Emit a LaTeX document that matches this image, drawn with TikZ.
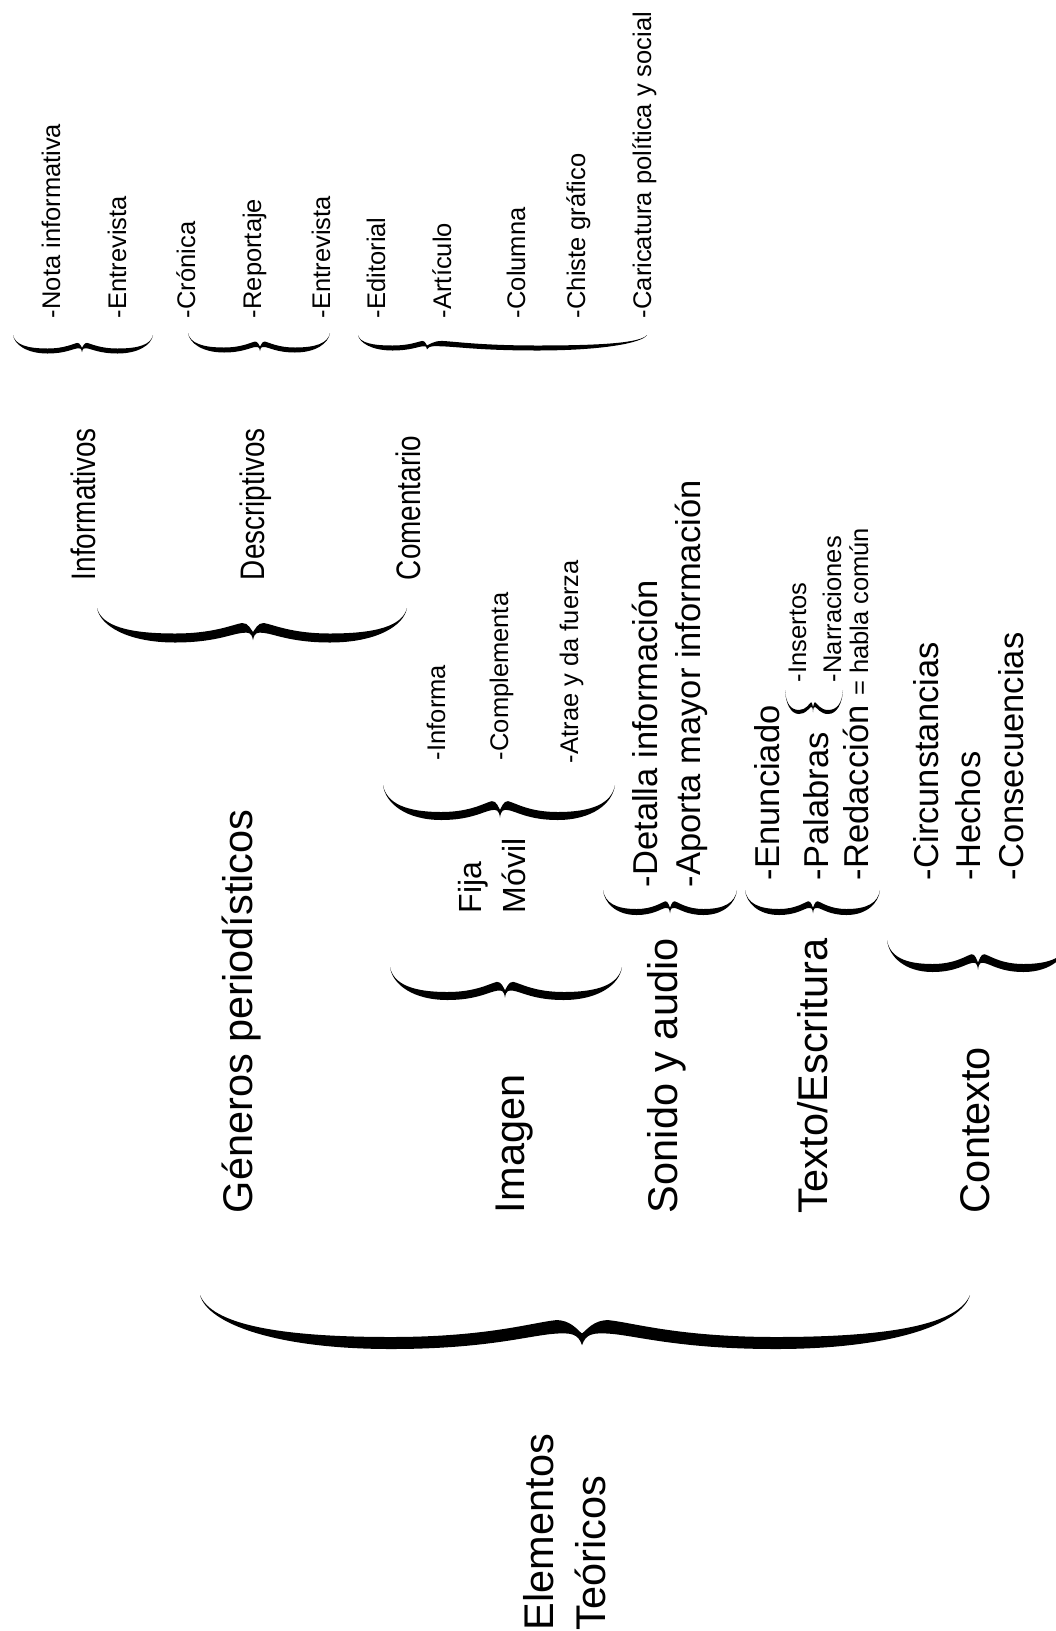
\documentclass[tikz,border=0pt]{standalone}
\usepackage{fontspec}
\setmainfont{Liberation Sans}
\newfontfamily\narrowsans{Liberation Sans}[FakeStretch=0.82]
\usetikzlibrary{positioning}

% curly brace: tip at the origin level, ends at y=0, belly at depth #3, thickness #4
\tikzset{
  pics/curly/.style n args={4}{code={%
    \fill[black] (-#1,0)
      .. controls ({-0.98*#1},{0.6*#3}) and ({-0.8*#1},{#3+0.5*#4}) .. ({-0.5*#1},{#3+0.5*#4})
      .. controls ({-0.25*#1},{#3+0.5*#4}) and ({-0.14*#1},{0.72*#3+0.5*#4}) .. ({-0.07*#1},{0.68*#3+0.5*#4})
      .. controls ({-0.03*#1},{0.66*#3+0.5*#4}) and ({-0.01*#1},{0.8*#3}) .. (0,{0.92*#3+0.5*#4})
      .. controls ({0.01*#2},{0.8*#3}) and ({0.03*#2},{0.66*#3+0.5*#4}) .. ({0.07*#2},{0.68*#3+0.5*#4})
      .. controls ({0.14*#2},{0.72*#3+0.5*#4}) and ({0.25*#2},{#3+0.5*#4}) .. ({0.5*#2},{#3+0.5*#4})
      .. controls ({0.8*#2},{#3+0.5*#4}) and ({0.98*#2},{0.6*#3}) .. (#2,0)
      .. controls ({0.97*#2},{0.6*#3}) and ({0.8*#2},{#3-0.5*#4}) .. ({0.5*#2},{#3-0.5*#4})
      .. controls ({0.25*#2},{#3-0.5*#4}) and ({0.13*#2},{0.7*#3-0.5*#4}) .. ({0.07*#2},{0.65*#3-0.5*#4})
      .. controls ({0.03*#2},{0.63*#3-0.5*#4}) and ({0.01*#2},{0.75*#3}) .. (0,{0.8*#3})
      .. controls ({-0.01*#1},{0.75*#3}) and ({-0.03*#1},{0.63*#3-0.5*#4}) .. ({-0.07*#1},{0.65*#3-0.5*#4})
      .. controls ({-0.13*#1},{0.7*#3-0.5*#4}) and ({-0.25*#1},{#3-0.5*#4}) .. ({-0.5*#1},{#3-0.5*#4})
      .. controls ({-0.8*#1},{#3-0.5*#4}) and ({-0.97*#1},{0.6*#3}) .. (-#1,0) -- cycle;
  }},
  lbl/.style={rotate=90, anchor=base west, inner sep=0pt, outer sep=0pt},
  biglbl/.style={lbl, font=\fontsize{41.5}{48}\selectfont},
  midlbl/.style={lbl, font=\narrowsans\fontsize{34}{40}\selectfont},
  medlbl/.style={lbl, font=\fontsize{34.5}{40}\selectfont},
  fmlbl/.style={lbl, font=\fontsize{32}{38}\selectfont},
  smllbl/.style={lbl, font=\fontsize{25.5}{30}\selectfont},
}

\begin{document}
\begin{tikzpicture}[x=1pt,y=-1pt]
\fill[white] (0,0) rectangle (1056,1631);
\useasboundingbox (0,0) rectangle (1056,1631);

% root
\node[biglbl] (elem) at (553,1630) {Elementos};
\node[biglbl] (teo) at (605,1630) {Teóricos};
\pic at (582,1295) {curly={382}{388}{48}{12}};

% main branches
\node[biglbl] (generos) at (252,1213) {Géneros periodísticos};
\node[biglbl] (imagen) at (524,1213) {Imagen};
\node[biglbl] (sonido) at (677,1213) {Sonido y audio};
\node[biglbl] (texto) at (827,1213) {Texto/Escritura};
\node[biglbl] (contexto) at (989,1213) {Contexto};

% generos periodisticos
\pic at (253,608) {curly={156}{154}{30}{9}};
\node[midlbl] (informativos) at (95,580) {Informativos};
\node[midlbl] (descriptivos) at (264,580) {Descriptivos};
\node[midlbl] (comentario) at (420,580) {Comentario};

\pic at (82,335) {curly={69}{71}{16}{5}};
\pic at (260,333) {curly={72}{70}{17}{5}};
\pic at (427,335) {curly={69}{220}{13}{5}};
\node[smllbl] (nota) at (60,318) {-Nota informativa};
\node[smllbl] (entrevA) at (126,318) {-Entrevista};
\node[smllbl] (cronica) at (195,318) {-Crónica};
\node[smllbl] (reportaje) at (261,318) {-Reportaje};
\node[smllbl] (entrevB) at (330,318) {-Entrevista};
\node[smllbl] (editorial) at (385,318) {-Editorial};
\node[smllbl] (articulo) at (451,318) {-Artículo};
\node[smllbl] (columna) at (525,318) {-Columna};
\node[smllbl] (chiste) at (585,318) {-Chiste gráfico};
\node[smllbl] (caricatura) at (651,318) {-Caricatura política y social};

% imagen
\pic at (505,967) {curly={115}{117}{29}{8}};
\node[fmlbl] (fija) at (481,913) {Fija};
\node[fmlbl] (movil) at (525,913) {Móvil};
\pic at (500,785) {curly={117}{115}{31}{8}};
\node[smllbl] (informa) at (445,760) {-Informa};
\node[smllbl] (complementa) at (508,760) {-Complementa};
\node[smllbl] (atrae) at (578,763) {-Atrae y da fuerza};

% sonido y audio
\pic at (670,890) {curly={67}{67}{22}{6}};
\node[medlbl] (detalla) at (657,887) {-Detalla información};
\node[medlbl] (aporta) at (700,887) {-Aporta mayor información};

% texto/escritura
\pic at (813,890) {curly={68}{67}{22}{6}};
\node[medlbl] (enunciado) at (779,880) {-Enunciado};
\node[medlbl] (palabras) at (828,880) {-Palabras};
\node[medlbl] (redaccion) at (868,880) {-Redacción {\fontsize{25.5}{30}\selectfont = habla común}};
\pic at (813,690) {curly={28}{30}{22}{4}};
\node[smllbl] (insertos) at (806,682) {-Insertos};
\node[smllbl] (narraciones) at (841,682) {-Narraciones};

% contexto
\pic at (978,940) {curly={91}{91}{28}{8}};
\node[medlbl] (circun) at (938,880) {-Circunstancias};
\node[medlbl] (hechos) at (980,880) {-Hechos};
\node[medlbl] (consec) at (1023,880) {-Consecuencias};
\end{tikzpicture}
\end{document}
